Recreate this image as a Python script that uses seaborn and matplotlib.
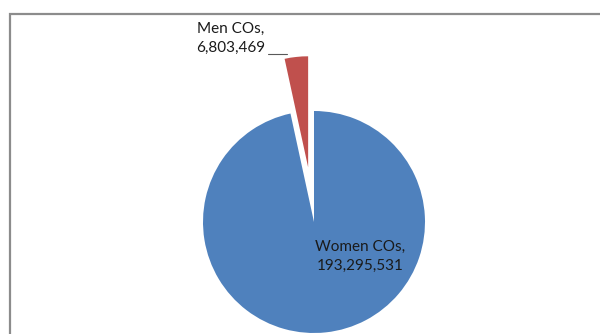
import numpy as np
import seaborn as sns
import matplotlib.pyplot as plt

# Data
categories = ["Women COs", "Men COs"]
values = [193295531, 6803469]
colors = ["#4F81BD", "#C0504D"]

sns.set_theme(style="white")
plt.rcParams['font.family'] = ['Lato', 'DejaVu Sans']

fig = plt.figure(figsize=(6.0, 3.34), dpi=100)
ax = fig.add_axes([0, 0, 1, 1])

ax.pie(
    values,
    colors=colors,
    startangle=90,
    counterclock=False,
    explode=[0, 55],
    radius=111,
    center=(314, 112),
    frame=True,
    wedgeprops=dict(linewidth=0),
)
ax.set_xlim(0, 600)
ax.set_ylim(0, 334)
ax.set_aspect('equal')
ax.axis('off')

# Outer chart frame (cropped screenshot: top and left edges visible)
ax.plot([10, 10, 600], [0, 320, 320], color="#8c8c8c", lw=1.6,
        solid_capstyle='butt', solid_joinstyle='miter')

labels = [f"{c},\n{v:,}" for c, v in zip(categories, values)]

ax.text(360, 78, labels[0], ha='center', va='center', fontsize=11,
        color="#1a1a1a", linespacing=1.45)
ax.text(231, 296, labels[1], ha='center', va='center', fontsize=11,
        color="#1a1a1a", linespacing=1.45)
# leader line for the small slice
ax.plot([268, 287], [280, 280], color="#595959", lw=0.8)

plt.savefig("out.png", dpi=100)
